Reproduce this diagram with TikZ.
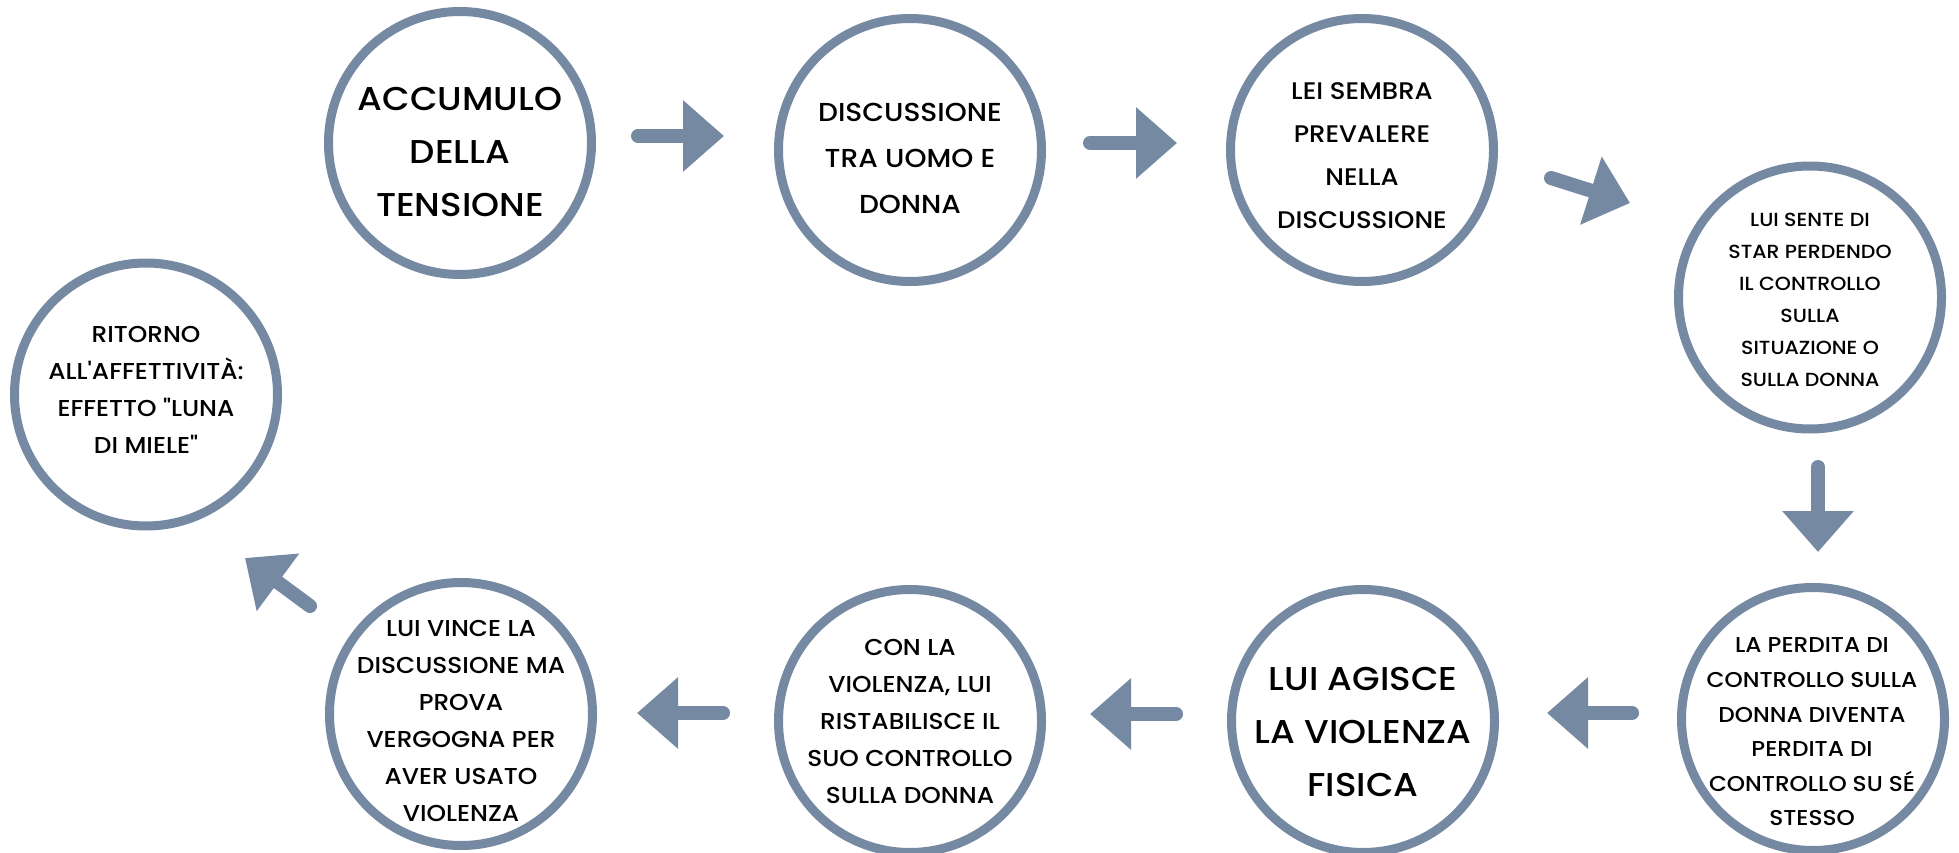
\documentclass[tikz,border=0pt]{standalone}
\usepackage{fontspec}
\setmainfont{Poppins}[UprightFont=* Medium, Ligatures=TeXOff, FakeStretch=1.08]
\usetikzlibrary{arrows.meta}
\definecolor{ringblue}{RGB}{117,137,162}
\begin{document}
\begin{tikzpicture}[x=1pt,y=-1pt,
  ring/.style={circle, draw=ringblue, line width=9pt, minimum size=263pt, inner sep=0pt, fill=white},
  txt/.style={align=center, inner sep=0pt, text=black},
  flow/.style={draw=ringblue, line width=14pt, line cap=round, -{Triangle[length=41pt,width=69pt]}}]
\useasboundingbox[fill=white] (0,0) rectangle (1959,853);
% circles
\node[ring] (c1) at (460,143) {};
\node[ring] (c2) at (910,150) {};
\node[ring] (c3) at (1362,150) {};
\node[ring] (c4) at (1810,297.5) {};
\node[ring] (c5) at (1813,719) {};
\node[ring] (c6) at (1363,721) {};
\node[ring] (c7) at (910,721) {};
\node[ring] (c8) at (461,714) {};
\node[ring] (c9) at (146,394.5) {};
% texts
\node[txt, font=\fontsize{33}{53}\selectfont] (t1) at (460,151.5) {ACCUMULO\\DELLA\\TENSIONE};
\node[txt, font=\fontsize{26}{46}\selectfont] (t2) at (910,158.5) {DISCUSSIONE\\TRA UOMO E\\DONNA};
\node[txt, font=\fontsize{24}{43}\selectfont] (t3) at (1362,155.5) {LEI SEMBRA\\PREVALERE\\NELLA\\DISCUSSIONE};
\node[txt, font=\fontsize{19}{32}\selectfont] (t4) at (1810,300) {LUI SENTE DI\\STAR PERDENDO\\IL CONTROLLO\\SULLA\\SITUAZIONE O\\SULLA DONNA};
\node[txt, font=\fontsize{21.5}{34.6}\selectfont] (t5) at (1812,732) {LA PERDITA DI\\CONTROLLO SULLA\\DONNA DIVENTA\\PERDITA DI\\CONTROLLO SU SÉ\\STESSO};
\node[txt, font=\fontsize{33}{53}\selectfont] (t6) at (1363,731.5) {LUI AGISCE\\LA VIOLENZA\\FISICA};
\node[txt, font=\fontsize{23}{37}\selectfont] (t7) at (910,721) {CON LA\\VIOLENZA, LUI\\RISTABILISCE IL\\SUO CONTROLLO\\SULLA DONNA};
\node[txt, font=\fontsize{23}{37}\selectfont] (t8) at (461,720.5) {LUI VINCE LA\\DISCUSSIONE MA\\PROVA\\VERGOGNA PER\\AVER USATO\\VIOLENZA};
\node[txt, font=\fontsize{23}{37}\selectfont] (t9) at (146,389.5) {RITORNO\\ALL'AFFETTIVITÀ:\\EFFETTO "LUNA\\DI MIELE"};
% arrow end points
\coordinate (a1s) at (638,136);  \coordinate (a1e) at (724,136);
\coordinate (a2s) at (1090,143); \coordinate (a2e) at (1177,143);
\coordinate (a3s) at (1551,178); \coordinate (a3e) at (1630,203);
\coordinate (a4s) at (1818,467); \coordinate (a4e) at (1818,552);
\coordinate (a5s) at (1632,713); \coordinate (a5e) at (1547,713);
\coordinate (a6s) at (1176,714); \coordinate (a6e) at (1090,714);
\coordinate (a7s) at (723,713);  \coordinate (a7e) at (637,713);
\coordinate (a8s) at (310,606);  \coordinate (a8e) at (245,558);
\draw[flow] (a1s) -- (a1e);
\draw[flow] (a2s) -- (a2e);
\draw[flow] (a3s) -- (a3e);
\draw[flow] (a4s) -- (a4e);
\draw[flow] (a5s) -- (a5e);
\draw[flow] (a6s) -- (a6e);
\draw[flow] (a7s) -- (a7e);
\draw[flow] (a8s) -- (a8e);
\end{tikzpicture}
\end{document}
